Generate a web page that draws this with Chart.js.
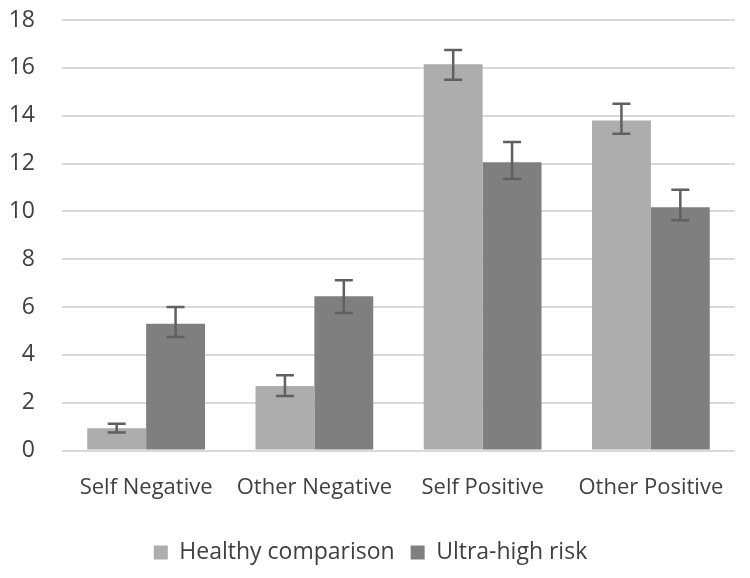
<!DOCTYPE html>
<html>
<head>
<meta charset="utf-8">
<script src="https://cdn.jsdelivr.net/npm/chart.js@4"></script>
<style>
  html, body { margin: 0; padding: 0; background: #fff; }
  #wrap { width: 750px; height: 578px; }
</style>
</head>
<body>
<div id="wrap"><canvas id="c" width="750" height="578"></canvas></div>
<script>
const categories = ["Self Negative", "Other Negative", "Self Positive", "Other Positive"];
const healthyValues = [0.93, 2.7, 16.15, 13.8];
const healthyLow = [0.76, 2.28, 15.5, 13.25];
const healthyHigh = [1.12, 3.15, 16.75, 14.5];
const uhrValues = [5.3, 6.45, 12.05, 10.17];
const uhrLow = [4.75, 5.75, 11.35, 9.63];
const uhrHigh = [6.0, 7.12, 12.9, 10.9];
const yTicks = [0, 2, 4, 6, 8, 10, 12, 14, 16, 18];

const FONT = 'Open Sans';

const errorBars = {
  id: 'errorBars',
  afterDatasetsDraw(chart) {
    const ctx = chart.ctx;
    const y = chart.scales.y;
    chart.data.datasets.forEach((ds, di) => {
      const meta = chart.getDatasetMeta(di);
      meta.data.forEach((bar, i) => {
        const top = y.getPixelForValue(ds.errHigh[i]);
        const bot = y.getPixelForValue(ds.errLow[i]);
        const x = bar.x;
        ctx.save();
        ctx.strokeStyle = '#606060';
        ctx.lineWidth = 2.5;
        ctx.beginPath();
        ctx.moveTo(x, top); ctx.lineTo(x, bot);
        ctx.moveTo(x - 9, top); ctx.lineTo(x + 9, top);
        ctx.moveTo(x - 9, bot); ctx.lineTo(x + 9, bot);
        ctx.stroke();
        ctx.restore();
      });
    });
  }
};

new Chart(document.getElementById('c'), {
  type: 'bar',
  data: {
    labels: categories,
    datasets: [
      { label: 'Healthy comparison', data: healthyValues, errLow: healthyLow, errHigh: healthyHigh,
        backgroundColor: '#adadad', categoryPercentage: 0.7, barPercentage: 1.0 },
      { label: 'Ultra-high risk', data: uhrValues, errLow: uhrLow, errHigh: uhrHigh,
        backgroundColor: '#7f7f7f', categoryPercentage: 0.7, barPercentage: 1.0 }
    ]
  },
  options: {
    responsive: false,
    animation: false,
    devicePixelRatio: 1,
    layout: { padding: { left: 6, right: 15, top: 20, bottom: 4 } },
    plugins: {
      tooltip: { enabled: false },
      legend: {
        position: 'bottom',
        labels: {
          color: '#404040',
          font: { family: FONT, size: 23 },
          boxWidth: 14, boxHeight: 14,
          padding: 16
        }
      }
    },
    scales: {
      x: {
        grid: { display: false, drawTicks: false },
        border: { display: false },
        ticks: { color: '#404040', font: { family: FONT, size: 22 }, padding: 24 },
        afterFit(axis) { axis.paddingLeft = 0; axis.paddingRight = 0; }
      },
      y: {
        min: 0, max: 18,
        afterBuildTicks(axis) { axis.ticks = yTicks.map(v => ({ value: v })); },
        grid: { color: '#d9d9d9', lineWidth: 2, drawTicks: false },
        border: { display: false },
        ticks: { color: '#404040', font: { family: FONT, size: 23 }, padding: 27 },
        afterFit(axis) { axis.width = 56; axis.paddingTop = 0; axis.paddingBottom = 0; }
      }
    }
  },
  plugins: [errorBars]
});
</script>
</body>
</html>
